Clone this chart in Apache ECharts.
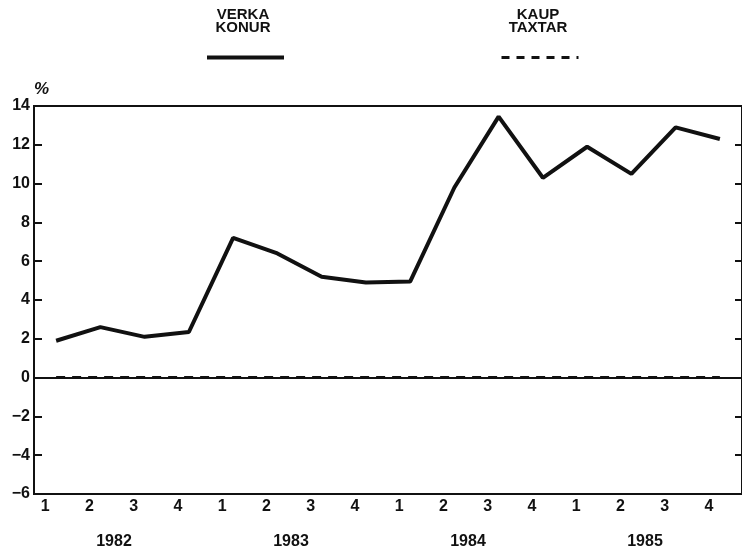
<!DOCTYPE html>
<html>
<head>
<meta charset="utf-8">
<script src="https://cdn.jsdelivr.net/npm/echarts@6/dist/echarts.min.js"></script>
<style>
html, body { margin: 0; padding: 0; background: #fff; }
#chart { width: 742px; height: 551px; }
</style>
</head>
<body>
<div id="chart"></div>
<script>
// quarter labels, 1982 - 1985
var quarters = ['1', '2', '3', '4', '1', '2', '3', '4', '1', '2', '3', '4', '1', '2', '3', '4'];
var years = ['1982', '1983', '1984', '1985'];
// verka konur, %
var verkaKonur = [1.9, 2.6, 2.1, 2.35, 7.2, 6.4, 5.2, 4.9, 4.95, 9.8, 13.45, 10.3, 11.9, 10.5, 12.9, 12.3];
// kaup taxtar, %
var kaupTaxtar = [0, 0, 0, 0, 0, 0, 0, 0, 0, 0, 0, 0, 0, 0, 0, 0];

var ink = '#111';
var font = '"Liberation Sans", Arial, sans-serif';

var myChart = echarts.init(document.getElementById('chart'));
var option = {
	animation: false,
	backgroundColor: '#fff',
	textStyle: { fontFamily: font },
	legend: [{
		data: ['VERKA KONUR'],
		left: 205, top: 55, padding: 0,
		itemWidth: 77, itemHeight: 5,
		itemStyle: { opacity: 0 },
		lineStyle: { width: 4, color: ink },
		formatter: function() { return ''; }
	}, {
		data: ['KAUP TAXTAR'],
		left: 500, top: 55, padding: 0,
		itemWidth: 77, itemHeight: 5,
		itemStyle: { opacity: 0 },
		lineStyle: { width: 3, color: ink, type: [8, 7] },
		formatter: function() { return ''; }
	}],
	graphic: [{
		type: 'text', x: 243, y: 8,
		style: { text: 'VERKA\nKONUR', fill: ink, font: 'bold 15px ' + font, align: 'center', lineHeight: 13 }
	}, {
		type: 'text', x: 538, y: 8,
		style: { text: 'KAUP\nTAXTAR', fill: ink, font: 'bold 15px ' + font, align: 'center', lineHeight: 13 }
	}],
	grid: {
		left: 34, right: -3, top: 106, bottom: 57,
		show: true, borderColor: ink, borderWidth: 2
	},
	xAxis: [{
		type: 'category',
		data: quarters,
		boundaryGap: true,
		axisLine: { lineStyle: { color: ink, width: 2 } },
		axisTick: { inside: true, length: 8, alignWithLabel: true, lineStyle: { color: ink, width: 2 } },
		axisLabel: { color: ink, fontSize: 16, fontWeight: 'bold', margin: 5, padding: [0, 22, 0, 0] }
	}, {
		type: 'category',
		data: years,
		position: 'bottom',
		axisLine: { show: false },
		axisTick: { show: false },
		axisLabel: { color: ink, fontSize: 16, fontWeight: 'bold', margin: 40, padding: [0, 17, 0, 0] }
	}],
	yAxis: [{
		type: 'value',
		min: -6, max: 14, interval: 2,
		name: '%',
		nameLocation: 'end',
		nameGap: 6,
		nameTextStyle: { color: ink, fontSize: 17, fontWeight: 'bold', align: 'left', fontStyle: 'italic' },
		axisLine: { show: true, lineStyle: { color: ink, width: 2 } },
		axisTick: { show: true, inside: true, length: 8, lineStyle: { color: ink, width: 2 } },
		axisLabel: {
			color: ink, fontSize: 16, fontWeight: 'bold', margin: 4,
			formatter: function(v) { return String(v).replace('-', '\u2212'); }
		},
		splitLine: { show: false }
	}, {
		type: 'value',
		position: 'right',
		min: -6, max: 14, interval: 2,
		axisLine: { show: false },
		axisTick: { show: true, inside: true, length: 7, lineStyle: { color: ink, width: 2 } },
		axisLabel: { show: false },
		splitLine: { show: false }
	}],
	series: [{
		name: 'VERKA KONUR',
		type: 'line',
		data: verkaKonur,
		symbol: 'none',
		color: ink,
		lineStyle: { color: ink, width: 4 },
		z: 5,
		markLine: {
			silent: true,
			symbol: 'none',
			label: { show: false },
			lineStyle: { color: ink, width: 2, type: 'solid' },
			data: [{ yAxis: 0 }]
		}
	}, {
		name: 'KAUP TAXTAR',
		type: 'line',
		data: kaupTaxtar,
		symbol: 'none',
		color: ink,
		lineStyle: { color: ink, width: 3, type: [9, 7] },
		z: 4
	}]
};
myChart.setOption(option);
</script>
</body>
</html>
